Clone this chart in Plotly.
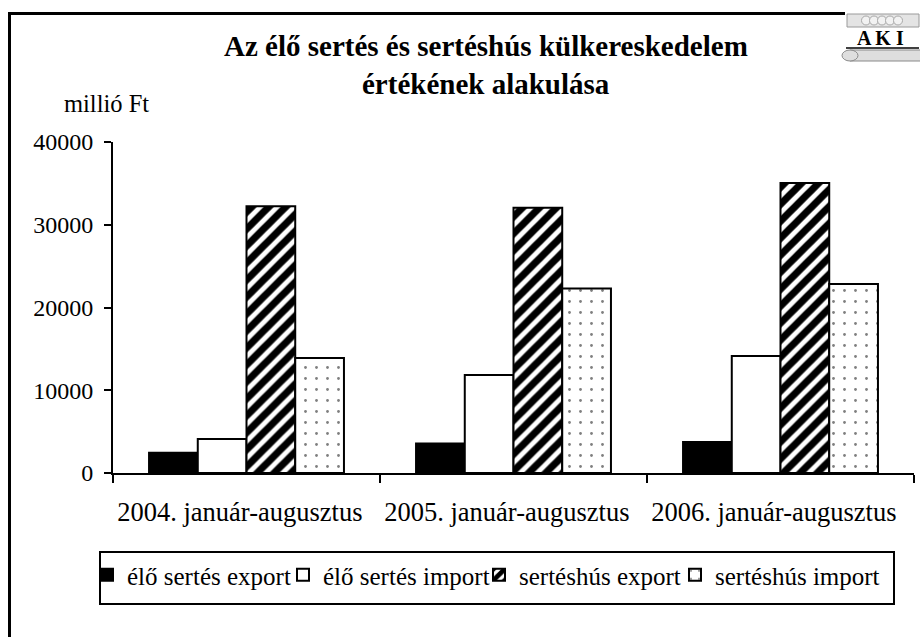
import plotly.graph_objects as go

categories = ["2004. január-augusztus", "2005. január-augusztus", "2006. január-augusztus"]
elo_export = [2450, 3550, 3750]
elo_import = [4100, 11850, 14150]
hus_export = [32250, 32050, 35050]
hus_import = [13900, 22300, 22850]
series_names = ["élő sertés export", "élő sertés import", "sertéshús export", "sertéshús import"]
y_ticks = [0, 10000, 20000, 30000, 40000]

FONT = "Liberation Serif, Times New Roman, serif"
W, H = 920, 637
L, R, T, B = 113, 6, 142, 164
PW, PH = W - L - R, H - T - B


def px(x):
    return (x - L) / PW


def py(y):
    return (H - B - y) / PH


fig = go.Figure()
line = dict(color="black", width=2)
fig.add_trace(go.Bar(x=categories, y=elo_export, name=series_names[0], legendwidth=151,
                     marker=dict(color="black", line=line)))
fig.add_trace(go.Bar(x=categories, y=elo_import, name=series_names[1], legendwidth=151,
                     marker=dict(color="white", line=line)))
fig.add_trace(go.Bar(x=categories, y=hus_export, name=series_names[2], legendwidth=151,
                     marker=dict(color="white", line=line,
                                 pattern=dict(shape="/", fgcolor="black", bgcolor="white",
                                              fgopacity=1, size=12, solidity=0.6))))
fig.add_trace(go.Bar(x=categories, y=hus_import, name=series_names[3], legendwidth=167,
                     marker=dict(color="white", line=line,
                                 pattern=dict(shape=".", fgcolor="black", bgcolor="white",
                                              size=11, solidity=0.05))))

shapes = []
# outer frame
shapes.append(dict(type="rect", xref="paper", yref="paper",
                   x0=px(9.5), x1=px(935), y0=py(13.5), y1=py(660),
                   line=dict(color="black", width=3), fillcolor="rgba(0,0,0,0)", layer="below"))
# legend box
shapes.append(dict(type="rect", xref="paper", yref="paper",
                   x0=px(100), x1=px(894), y0=py(552), y1=py(604),
                   line=dict(color="black", width=2), fillcolor="rgba(0,0,0,0)", layer="above"))
# logo background (covers frame)
shapes.append(dict(type="rect", xref="paper", yref="paper",
                   x0=px(845), x1=px(921), y0=py(10), y1=py(63),
                   line=dict(width=0), fillcolor="white", layer="above"))
# logo top bar
shapes.append(dict(type="rect", xref="paper", yref="paper",
                   x0=px(847), x1=px(919), y0=py(14), y1=py(27),
                   line=dict(color="#9a9a9a", width=1), fillcolor="#e4e4e4", layer="above"))
for cx in [866, 874, 882, 890, 898]:
    shapes.append(dict(type="circle", xref="paper", yref="paper",
                       x0=px(cx - 4.5), x1=px(cx + 4.5), y0=py(16), y1=py(25),
                       line=dict(color="#a8a8a8", width=1), fillcolor="#f2f2f2", layer="above"))
# logo underline
shapes.append(dict(type="line", xref="paper", yref="paper",
                   x0=px(846), x1=px(919), y0=py(48), y1=py(48),
                   line=dict(color="black", width=1.5), layer="above"))
# logo scroll
shapes.append(dict(type="rect", xref="paper", yref="paper",
                   x0=px(850), x1=px(921), y0=py(50), y1=py(61),
                   line=dict(color="#8a8a8a", width=1), fillcolor="#dedede", layer="above"))
shapes.append(dict(type="circle", xref="paper", yref="paper",
                   x0=px(842), x1=px(858), y0=py(50), y1=py(61),
                   line=dict(color="#8a8a8a", width=1), fillcolor="#dedede", layer="above"))

annotations = [
    dict(text="<b>Az élő sertés és sertéshús külkereskedelem</b>", xref="paper", yref="paper",
         x=px(486), y=py(46), xanchor="center", yanchor="middle", showarrow=False,
         font=dict(family=FONT, size=29, color="black")),
    dict(text="<b>értékének alakulása</b>", xref="paper", yref="paper",
         x=px(486), y=py(84), xanchor="center", yanchor="middle", showarrow=False,
         font=dict(family=FONT, size=29, color="black")),
    dict(text="millió Ft", xref="paper", yref="paper",
         x=px(62), y=py(103), xanchor="left", yanchor="middle", showarrow=False,
         font=dict(family=FONT, size=24.5, color="black")),
    dict(text="<b>A K I</b>", xref="paper", yref="paper",
         x=px(880), y=py(38), xanchor="center", yanchor="middle", showarrow=False,
         font=dict(family=FONT, size=20, color="black")),
]

fig.update_layout(
    width=W, height=H,
    margin=dict(l=L, r=R, t=T, b=B, autoexpand=False),
    paper_bgcolor="white", plot_bgcolor="white",
    barmode="group", bargap=0.27, bargroupgap=0,
    font=dict(family=FONT, size=24, color="black"),
    showlegend=True,
    legend=dict(orientation="h", x=px(87), y=py(552), xanchor="left", yanchor="top",
                borderwidth=0, bgcolor="rgba(0,0,0,0)",
                font=dict(family=FONT, size=25, color="black"),
                itemwidth=30, tracegroupgap=0, entrywidthmode="pixels"),
    shapes=shapes,
    annotations=annotations,
)
fig.update_xaxes(showline=True, linecolor="black", linewidth=2, ticks="outside",
                 tickson="boundaries", ticklen=8, tickwidth=2, tickcolor="black",
                 tickvals=categories, ticktext=[c + "\u2002" for c in categories],
                 tickangle=0, ticklabelstandoff=14, automargin=False,
                 showgrid=False, tickfont=dict(family=FONT, size=26.5, color="black"))
fig.update_yaxes(range=[0, 40000], tickvals=y_ticks, tickformat="d",
                 showline=True, linecolor="black", linewidth=2, ticks="outside",
                 ticklen=7, tickwidth=2, tickcolor="black", showgrid=False, zeroline=False,
                 ticklabelstandoff=6, automargin=False,
                 tickfont=dict(family=FONT, size=24, color="black"))

fig.write_html("out.html", config={"displayModeBar": False},
               post_script="document.body.style.margin='0';")
